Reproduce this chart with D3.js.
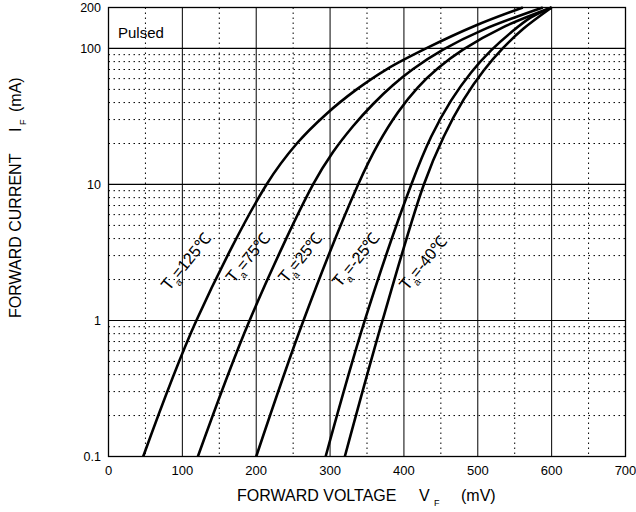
<!DOCTYPE html>
<html lang="en">
<head>
<meta charset="UTF-8">
<title>VF - IF</title>
<style>
  body { margin: 0; background: #fff; }
  svg { display: block; font-family: "Liberation Sans", Arial, sans-serif; }
</style>
</head>
<body>
<div id="chart"></div>
<script src="https://d3js.org/d3.v7.min.js"></script>
<script>
  const NS = 'http://www.w3.org/2000/svg';

  // 温度 (℃)
  const temps = ['125', '75', '25', '-25', '-40'];

  // 每条曲线: VF (mV) 与 IF (mA)
  const vf125 = [47, 119, 214, 255, 295, 336, 376, 430, 498, 561];
  const if125 = [0.1, 1, 10, 20, 33, 50, 70, 100, 148, 200];

  const vf75 = [121, 191, 277, 304, 331, 358, 385, 412, 453, 507, 588];
  const if75 = [0.1, 1, 10, 17.3, 26.8, 38.9, 53.6, 70.3, 98, 137, 200];

  const vf25 = [200, 264, 338, 365, 392, 419, 446, 480, 534, 600];
  const if25 = [0.1, 1, 10, 19.8, 34, 51.8, 71.5, 98, 143, 200];

  const vfm25 = [294, 347, 410, 437, 464, 491, 518, 545, 572, 600];
  const ifm25 = [0.1, 1, 10, 22.5, 41.5, 66.6, 96.7, 131, 169, 200];

  const vfm40 = [320, 371, 427, 454, 481, 508, 535, 562, 600];
  const ifm40 = [0.1, 1, 10, 22.5, 42.2, 68.9, 101.7, 140, 200];

  // 标签位置 (数据坐标)
  const labelV = [105, 189, 260, 335, 426];
  const labelI = [2.7, 2.9, 2.9, 2.8, 2.65];

  // 刻度
  const xTicks = [0, 100, 200, 300, 400, 500, 600, 700];
  const yTicks = [0.1, 1, 10, 100, 200];

  const width = 636;
  const height = 512;

  const series = [
    { t: temps[0], v: vf125, i: if125 },
    { t: temps[1], v: vf75, i: if75 },
    { t: temps[2], v: vf25, i: if25 },
    { t: temps[3], v: vfm25, i: ifm25 },
    { t: temps[4], v: vfm40, i: ifm40 }
  ];

  const svg = d3.select('#chart')
    .append('svg')
    .attr('xmlns', NS)
    .attr('width', width)
    .attr('height', height);

  const x = d3.scaleLinear().domain([0, 700]).range([108.5, 625.5]);
  const y = d3.scaleLog().domain([0.1, 200]).range([456.5, 7.5]);

  const grid = svg.append('g');

  // 细虚线
  const minorX = d3.range(50, 700, 100);
  grid.selectAll('.mx').data(minorX).enter().append('line')
    .attr('x1', d => x(d)).attr('x2', d => x(d))
    .attr('y1', y(200)).attr('y2', y(0.1))
    .attr('stroke', '#000').attr('stroke-width', 1)
    .attr('stroke-dasharray', '1.5,3.5');

  const minorY = [];
  [0.1, 1, 10].forEach(d => {
    for (let k = 2; k <= 9; k++) minorY.push(d * k);
  });
  grid.selectAll('.my').data(minorY).enter().append('line')
    .attr('x1', x(0)).attr('x2', x(700))
    .attr('y1', d => y(d)).attr('y2', d => y(d))
    .attr('stroke', '#000').attr('stroke-width', 1)
    .attr('stroke-dasharray', '1.5,3.5');

  // 实线
  grid.selectAll('.Mx').data([100, 200, 300, 400, 500, 600]).enter().append('line')
    .attr('x1', d => x(d)).attr('x2', d => x(d))
    .attr('y1', y(200)).attr('y2', y(0.1))
    .attr('stroke', '#000').attr('stroke-width', 1);

  grid.selectAll('.My').data([1, 10, 100]).enter().append('line')
    .attr('x1', x(0)).attr('x2', x(700))
    .attr('y1', d => y(d)).attr('y2', d => y(d))
    .attr('stroke', '#000').attr('stroke-width', 1.2);

  grid.append('rect')
    .attr('x', x(0)).attr('y', y(200))
    .attr('width', x(700) - x(0)).attr('height', y(0.1) - y(200))
    .attr('fill', 'none').attr('stroke', '#000').attr('stroke-width', 1.3);

  // 曲线
  const line = d3.line()
    .x(d => x(d[0]))
    .y(d => y(d[1]))
    .curve(d3.curveCatmullRom.alpha(0.5));

  svg.append('g').selectAll('path').data(series).enter().append('path')
    .attr('d', s => line(s.v.map((v, k) => [v, s.i[k]])))
    .attr('fill', 'none')
    .attr('stroke', '#000')
    .attr('stroke-width', 2.6);

  // 温度标签
  const lab = svg.append('g').selectAll('text').data(series).enter().append('text')
    .attr('transform', (s, k) => `translate(${x(labelV[k])},${y(labelI[k])}) rotate(-51)`)
    .attr('text-anchor', 'middle')
    .attr('dy', '0.35em')
    .attr('font-size', 16);
  lab.append('tspan').attr('font-size', 17).text('T');
  lab.append('tspan').attr('font-size', 10).attr('dy', 5).text('a');
  lab.append('tspan').attr('dy', -5).text(s => '=' + s.t + '℃');

  // 刻度文字
  svg.append('g').selectAll('text').data(xTicks).enter().append('text')
    .attr('x', d => x(d))
    .attr('y', 475)
    .attr('text-anchor', 'middle')
    .attr('font-size', 13)
    .text(d => d);

  svg.append('g').selectAll('text').data(yTicks).enter().append('text')
    .attr('x', 101)
    .attr('y', d => y(d))
    .attr('dy', '0.35em')
    .attr('text-anchor', 'end')
    .attr('font-size', 12.5)
    .text(d => d);

  svg.append('text')
    .attr('x', 118).attr('y', 38)
    .attr('font-size', 15)
    .text('Pulsed');

  // 坐标轴标题
  const xt = svg.append('text').attr('y', 501).attr('font-size', 16);
  xt.append('tspan').attr('x', 237).text('FORWARD VOLTAGE');
  xt.append('tspan').attr('x', 419).text('V');
  xt.append('tspan').attr('x', 434).attr('dy', 5).attr('font-size', 9).text('F');
  xt.append('tspan').attr('x', 461).attr('dy', -5).text('(mV)');

  const yt = svg.append('text')
    .attr('transform', 'translate(21,318) rotate(-90)')
    .attr('font-size', 16);
  yt.append('tspan').attr('x', 0).text('FORWARD CURRENT');
  yt.append('tspan').attr('x', 186).text('I');
  yt.append('tspan').attr('x', 193).attr('dy', 5).attr('font-size', 9).text('F');
  yt.append('tspan').attr('x', 206).attr('dy', -5).text('(mA)');
</script>
</body>
</html>
